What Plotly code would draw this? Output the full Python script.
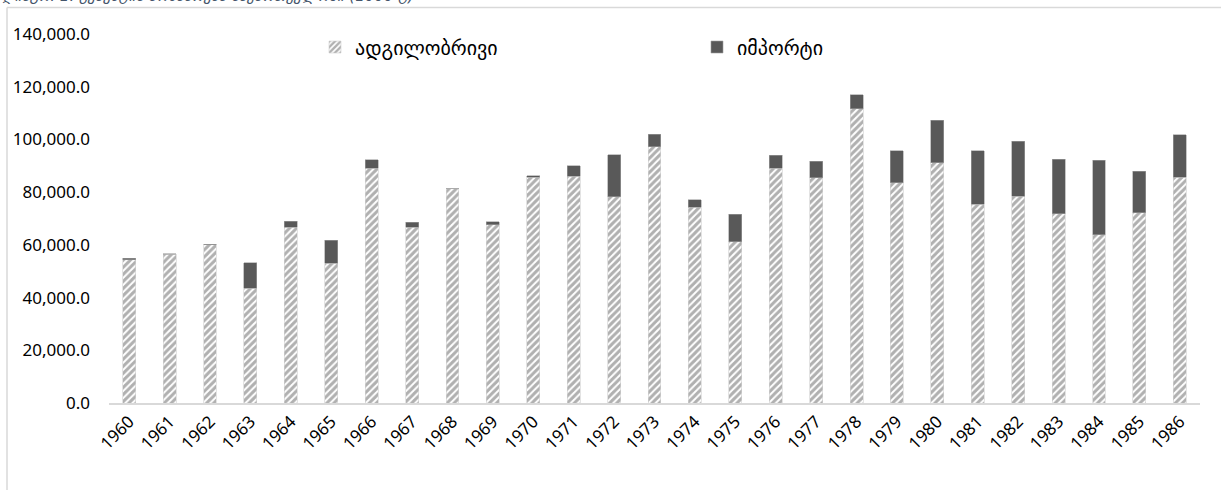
import plotly.graph_objects as go

years = [str(y) for y in range(1960, 1987)]
domestic = [54300, 56500, 60000, 43500, 66700, 53100, 89000, 66700, 81200, 67700,
            85600, 86000, 78300, 97300, 74300, 61100, 89100, 85400, 111600, 83500,
            91100, 75500, 78400, 71800, 63900, 72200, 85600]
imports = [600, 200, 200, 9800, 2300, 8600, 3300, 1800, 0, 1100,
           600, 4000, 15900, 4700, 2900, 10500, 4900, 6400, 5400, 12200,
           16100, 20300, 21000, 20600, 28200, 15800, 16100]
y_ticks = [0, 20000, 40000, 60000, 80000, 100000, 120000, 140000]
y_tick_text = ["0.0", "20,000.0", "40,000.0", "60,000.0", "80,000.0",
               "100,000.0", "120,000.0", "140,000.0"]
name_domestic = "ადგილობრივი"
name_import = "იმპორტი"
title_text = "დიაგრ. 1. ცემენტის მოხმარება საქართველოში (1000 ტ)"

W, H = 1221, 490
ML, MR, MT, MB = 109, 21, 33.5, 86.5
PW, PH = W - ML - MR, H - MT - MB


def px_x(p):
    return (p - ML) / PW


def px_y(p):
    return (H - MB - p) / PH


fig = go.Figure()
fig.add_trace(go.Bar(
    x=years, y=domestic, name=name_domestic,
    marker=dict(color="white",
                pattern=dict(shape="/", fgcolor="#626262", bgcolor="white",
                             size=5, solidity=0.6),
                line=dict(width=0.6, color="#d0d0d0")),
))
fig.add_trace(go.Bar(
    x=years, y=imports, name=name_import,
    marker=dict(color="#595959", line=dict(width=0.6, color="#a0a0a0")),
))

tick_font = dict(family="Noto Sans, DejaVu Sans, sans-serif", size=17, color="#000000")

fig.update_layout(
    barmode="stack",
    bargap=0.68,
    width=W, height=H,
    margin=dict(l=ML, r=MR, t=MT, b=MB, pad=0),
    paper_bgcolor="white",
    plot_bgcolor="white",
    showlegend=True,
    legend=dict(
        orientation="h",
        x=px_x(315), y=px_y(27), xanchor="left", yanchor="top",
        entrywidth=337, entrywidthmode="pixels",
        font=dict(family="DejaVu Sans, Noto Sans, sans-serif", size=20, color="#000000"),
        bgcolor="rgba(0,0,0,0)",
        itemwidth=30,
        traceorder="normal",
    ),
    xaxis=dict(
        type="category",
        tickangle=-45,
        tickfont=tick_font,
        showline=True, linecolor="#d9d9d9", linewidth=2,
        showgrid=False, ticks="",
        fixedrange=True,
    ),
    yaxis=dict(
        range=[0, 140000],
        tickvals=y_ticks, ticktext=y_tick_text,
        tickfont=tick_font,
        showgrid=False, zeroline=False, showline=False,
        ticks="", ticklabelstandoff=18,
        fixedrange=True,
    ),
    shapes=[
        dict(type="line", xref="paper", yref="paper",
             x0=px_x(7), x1=px_x(1230), y0=px_y(7), y1=px_y(7),
             line=dict(color="#d9d9d9", width=1.5)),
        dict(type="line", xref="paper", yref="paper",
             x0=px_x(7), x1=px_x(7), y0=px_y(7), y1=px_y(500),
             line=dict(color="#d9d9d9", width=1.5)),
    ],
    annotations=[
        dict(text="<i>" + title_text + "</i>", xref="paper", yref="paper",
             x=px_x(0), y=px_y(6), xanchor="left", yanchor="bottom",
             showarrow=False,
             font=dict(family="DejaVu Sans, Noto Sans, sans-serif", size=15, color="#44546A")),
    ],
)

fig.write_html("out.html", config={"displayModeBar": False},
               post_script="document.body.style.margin='0';")
